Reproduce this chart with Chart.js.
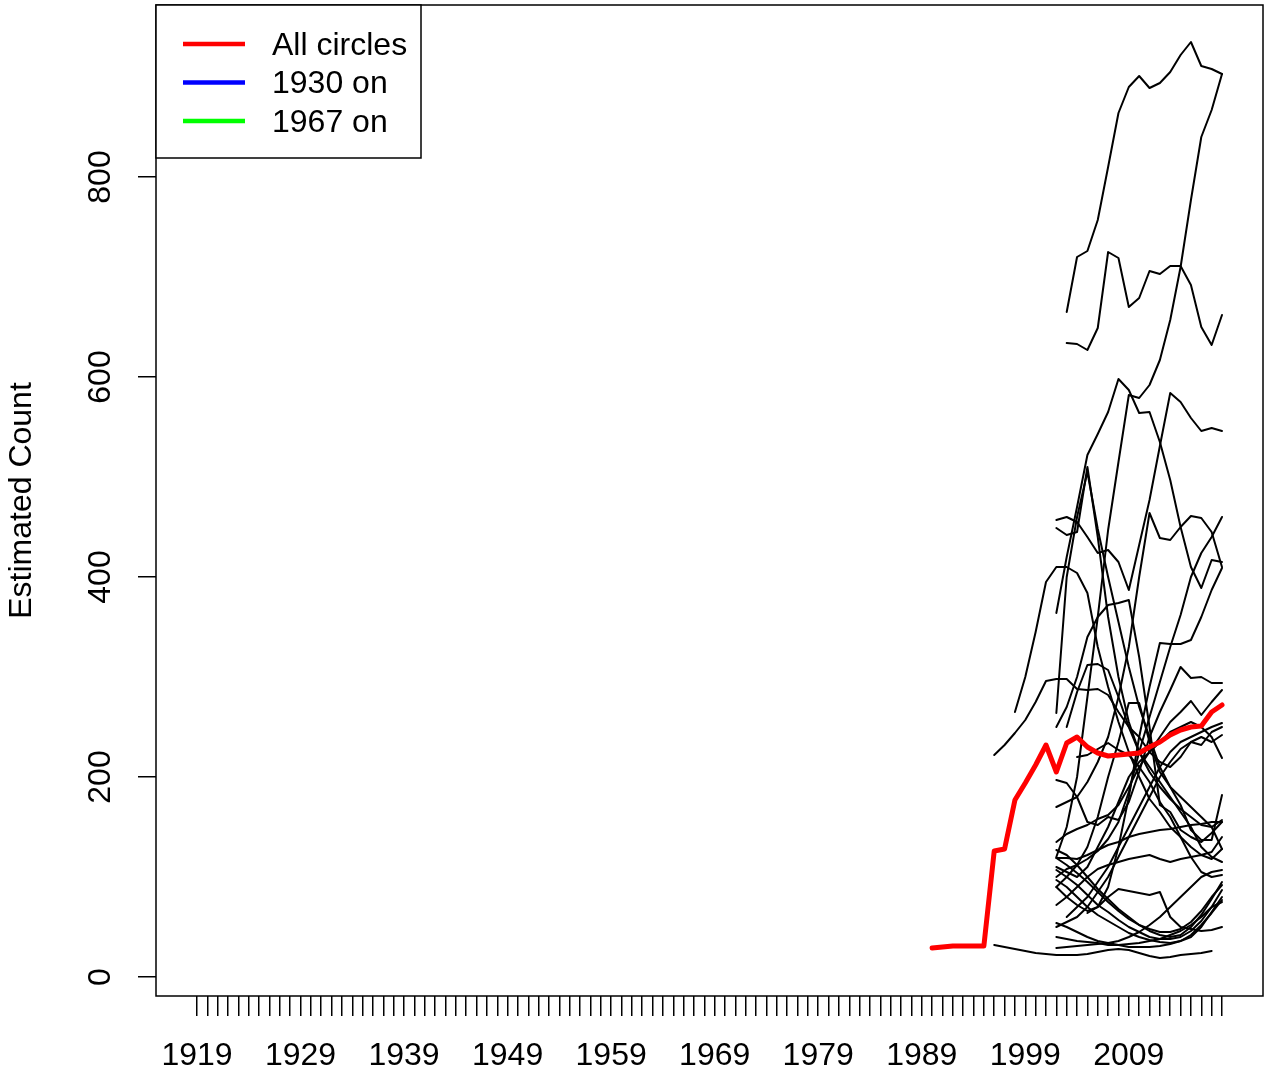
<!DOCTYPE html>
<html>
<head>
<meta charset="utf-8">
<script src="https://cdn.jsdelivr.net/npm/chart.js@4"></script>
<style>
  html, body { margin: 0; padding: 0; background: #fff; }
  #wrap { width: 1266px; height: 1078px; }
</style>
</head>
<body>
<div id="wrap"><canvas id="chart" width="1266" height="1078"></canvas></div>
<script>
// x axis: one tick per year, label every tenth year
const firstYear = 1919;
const lastYear = 2018;
const years = [];
for (let y = firstYear; y <= lastYear; y++) years.push(y);
const xTickLabels = ['1919', '1929', '1939', '1949', '1959', '1969', '1979', '1989', '1999', '2009'];
const yTicks = [0, 200, 400, 600, 800];

// red line, 1990-2018
const allCirclesStart = 1990;
const allCircles = [29, 30, 31, 31, 31, 31, 126, 128, 177, 194, 212, 232, 205, 234, 240, 230,
  224, 221, 222, 223, 224, 230, 235, 242, 247, 250, 251, 265, 272];

// legend entries (the blue and green series have no points here)
const legendLabels = ['All circles', '1930 on', '1967 on'];
const legendColors = ['#FF0000', '#0000FF', '#00FF00'];

// single circles that start early
const circle1996a = [32, 30, 28, 26, 24, 23, 22, 22, 22, 23, 25, 27, 28, 27, 24, 21, 19, 20, 22, 23, 24, 26];
const circle1996b = [222, 232, 244, 257, 275, 296, 298, 298, 288, 287, 288, 282, 265, 250, 240, 225, 215, 210, 220, 235, 240, 235, 242];
const circle1998 = [265, 300, 345, 395, 410, 410, 404, 384, 330, 290, 255, 225, 200, 178, 165, 150, 140, 130, 122, 125, 140];

// circles counted from 2002 on (null = not counted yet)
const lateStart = 2002;
const cA = [null, 665, 720, 726, 757, 810, 864, 890, 901, 889, 894, 905, 922, 935, 911, 908, 903];
const cB = [null, 634, 633, 627, 649, 725, 719, 670, 679, 706, 703, 711, 711, 692, 650, 632, 662];
const cC = [120, 150, 200, 280, 360, 447, 515, 582, 579, 592, 617, 657, 710, 777, 840, 867, 903];
const cD = [364, 420, 470, 522, 543, 565, 598, 587, 564, 565, 535, 497, 450, 410, 389, 417, 415];
const cE = [457, 460, 455, 440, 424, 427, 415, 387, 432, 477, 531, 584, 575, 559, 546, 549, 546];
const cF = [449, 442, 445, 510, 440, 360, 300, 255, 225, 205, 190, 178, 168, 160, 152, 150, 157];
const cG = [264, 400, 460, 505, 448, 400, 355, 310, 270, 240, 210, 190, 172, 147, 137, 137, 182];
const cH = [100, 108, 112, 118, 126, 138, 155, 185, 225, 260, 295, 330, 362, 400, 424, 440, 460];
const cI = [170, 175, 180, 195, 215, 240, 280, 330, 400, 464, 439, 437, 450, 461, 459, 445, 410];
const cJ = [250, 270, 300, 340, 360, 372, 374, 377, 320, 250, 172, 165, 147, 140, 135, 144, 155];
const cK = [90, 80, 72, 66, 70, 90, 130, 180, 240, 290, 334, 333, 333, 337, 360, 387, 409];
const cL = [null, 250, 285, 312, 313, 307, 280, 250, 225, 210, 195, 180, 165, 150, 130, 120, 115];
const cM = [null, null, 220, 222, 228, 234, 227, 222, 210, 195, 175, 160, 140, 120, 105, 100, 102];
const cN = [90, 100, 112, 130, 160, 200, 235, 274, 274, 235, 205, 190, 180, 170, 160, 150, 128];
const cO = [197, 194, 180, 155, 152, 160, 157, 175, 205, 240, 265, 287, 310, 299, 300, 294, 294];
const cP = [135, 143, 148, 152, 158, 162, 172, 190, 210, 225, 240, 255, 265, 276, 262, 275, 287];
const cQ = [null, 60, 70, 80, 95, 110, 130, 150, 170, 190, 210, 225, 235, 240, 245, 250, 254];
const cR = [110, 105, 100, 110, 130, 150, 175, 200, 215, 225, 235, 245, 250, 255, 250, 240, 219];
const cS = [50, 55, 60, 70, 85, 100, 120, 140, 160, 180, 200, 215, 228, 235, 232, 245, 250];
const cT = [119, 119, 118, 122, 127, 132, 135, 140, 143, 145, 147, 148, 150, 152, 153, 155, 155];
const cU = [127, 122, 112, 100, 88, 78, 68, 60, 52, 46, 42, 40, 42, 50, 62, 78, 95];
const cV = [119, 112, 104, 95, 85, 75, 66, 58, 52, 48, 45, 45, 48, 55, 66, 80, 92];
const cW = [107, 100, 92, 82, 72, 65, 57, 50, 45, 40, 38, 38, 40, 46, 56, 70, 87];
const cX = [97, 90, 80, 70, 62, 56, 50, 44, 40, 37, 35, 34, 36, 40, 50, 65, 80];
const cY = [54, 50, 45, 40, 36, 34, 32, 30, 30, 30, 31, 33, 36, 42, 52, 64, 77];
const cZ = [40, 38, 36, 35, 34, 32, 32, 33, 34, 36, 38, 42, 46, 52, 60, 70, 75];
const cR1 = [72, 80, 90, 100, 108, 112, 115, 118, 120, 122, 118, 115, 118, 120, 122, 118, 128];
const cR2 = [29, 30, 31, 32, 33, 34, 36, 40, 45, 52, 60, 70, 80, 90, 100, 105, 107];
const cR3 = [null, null, null, 64, 70, 80, 88, 86, 84, 82, 85, 60, 50, 48, 46, 47, 50];

const lateCircles = [cA, cB, cC, cD, cE, cF, cG, cH, cI, cJ, cK, cL, cM, cN, cO, cP, cQ, cR,
  cS, cT, cU, cV, cW, cX, cY, cZ, cR1, cR2, cR3];

const FONT = "'Liberation Sans', Arial, Helvetica, sans-serif";
const FONT_SIZE = 32;

function toPoints(start, counts) {
  return counts.map((v, i) => ({ x: start + i, y: v })).filter(p => p.y !== null);
}

function blackLine(points) {
  return { data: points, borderColor: '#000', borderWidth: 2, order: 2 };
}

const datasets = [
  { label: legendLabels[0], data: toPoints(allCirclesStart, allCircles), borderColor: legendColors[0], borderWidth: 5, order: 0, inLegend: true },
  { label: legendLabels[1], data: [], borderColor: legendColors[1], borderWidth: 5, order: 1, inLegend: true },
  { label: legendLabels[2], data: [], borderColor: legendColors[2], borderWidth: 5, order: 1, inLegend: true },
  blackLine(toPoints(1996, circle1996a)),
  blackLine(toPoints(1996, circle1996b)),
  blackLine(toPoints(1998, circle1998))
];
lateCircles.forEach(c => datasets.push(blackLine(toPoints(lateStart, c))));

// R style: 4% extra room on each side of the data range
const xPad = (lastYear - firstYear) * 0.04;

const frame = {
  id: 'frame',
  afterDraw(chart) {
    const { ctx, chartArea: a } = chart;
    ctx.save();
    ctx.strokeStyle = '#000';
    ctx.lineWidth = 1.5;
    ctx.strokeRect(a.left, a.top, a.right - a.left, a.bottom - a.top);

    // legend box in the top left corner
    const items = chart.data.datasets.filter(d => d.inLegend);
    const bx = a.left, by = a.top, bw = 265, bh = 153;
    ctx.fillStyle = '#fff';
    ctx.fillRect(bx, by, bw, bh);
    ctx.strokeRect(bx, by, bw, bh);
    ctx.font = FONT_SIZE + 'px ' + FONT;
    ctx.textBaseline = 'middle';
    ctx.textAlign = 'left';
    items.forEach((d, i) => {
      const y = by + 39 + i * 38.5;
      ctx.strokeStyle = d.borderColor;
      ctx.lineWidth = 4.5;
      ctx.beginPath();
      ctx.moveTo(bx + 27, y);
      ctx.lineTo(bx + 89, y);
      ctx.stroke();
      ctx.fillStyle = '#000';
      ctx.fillText(d.label, bx + 116, y + 2);
    });
    ctx.restore();
  }
};

new Chart(document.getElementById('chart'), {
  type: 'line',
  data: { datasets },
  options: {
    responsive: false,
    animation: false,
    events: [],
    layout: { padding: { top: 5, right: 3, left: 0, bottom: 0 } },
    plugins: { legend: { display: false }, tooltip: { enabled: false } },
    elements: {
      point: { radius: 0 },
      line: { tension: 0, borderCapStyle: 'round', borderJoinStyle: 'round' }
    },
    scales: {
      x: {
        type: 'linear',
        min: firstYear - xPad,
        max: lastYear + xPad,
        afterBuildTicks: s => { s.ticks = years.map(v => ({ value: v })); },
        afterFit: s => { s.height = 82; s.paddingLeft = 0; s.paddingRight = 0; },
        grid: { display: true, drawOnChartArea: false, drawTicks: true, tickLength: 20, color: '#000', lineWidth: 1.5 },
        border: { display: false },
        ticks: {
          autoSkip: false, minRotation: 0, maxRotation: 0, padding: 21, color: '#000',
          font: { family: FONT, size: FONT_SIZE },
          callback: v => xTickLabels.includes(String(v)) ? String(v) : ''
        }
      },
      y: {
        type: 'linear',
        min: -19,
        max: 972,
        afterBuildTicks: s => { s.ticks = yTicks.map(v => ({ value: v })); },
        afterFit: s => { s.width = 156; s.paddingTop = 0; s.paddingBottom = 0; },
        grid: { display: true, drawOnChartArea: false, drawTicks: true, tickLength: 18, color: '#000', lineWidth: 1.5 },
        border: { display: false },
        ticks: {
          minRotation: 90, maxRotation: 90, crossAlign: 'center', padding: 10, color: '#000',
          font: { family: FONT, size: FONT_SIZE }
        },
        title: {
          display: true, text: 'Estimated Count', color: '#000',
          font: { family: FONT, size: FONT_SIZE }, padding: { top: 3, bottom: 0 }
        }
      }
    }
  },
  plugins: [frame]
});
</script>
</body>
</html>
